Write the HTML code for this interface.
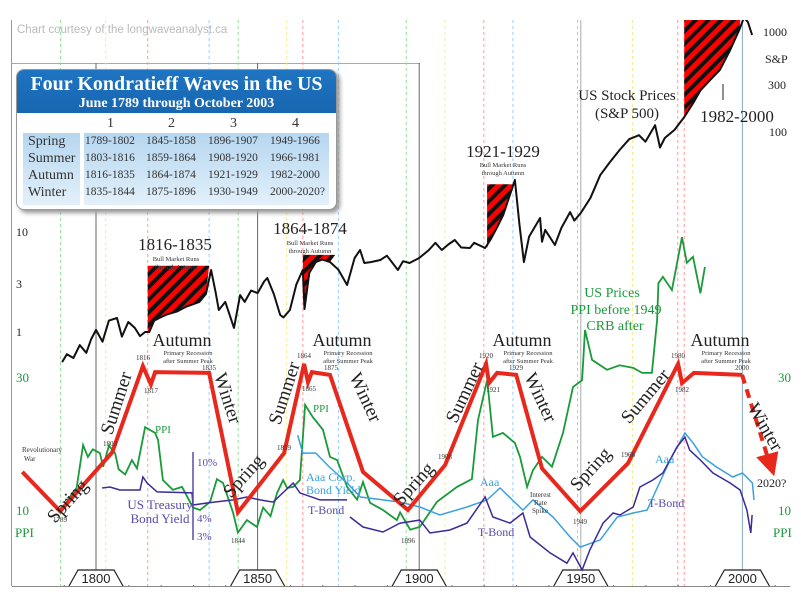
<!DOCTYPE html>
<html><head><meta charset="utf-8">
<style>
body{margin:0;background:#fff;}
#wrap{position:relative;width:801px;height:606px;overflow:hidden;background:#fff;font-family:"Liberation Serif",serif;}
svg{position:absolute;left:0;top:0;}
#tbl{position:absolute;left:16px;top:69px;width:319px;height:139px;border:1px solid #999;border-radius:8px;background:#fff;box-shadow:3px 3px 4px #999;overflow:hidden;}
#tbl .hd{background:linear-gradient(#1f74c2,#1766b0);height:43px;color:#fff;text-align:center;font-weight:bold;}
#tbl .t1{font-size:20px;line-height:23px;padding-top:3px;}
#tbl .t2{font-size:14px;line-height:16px;}
.cell{position:absolute;font-size:11.5px;color:#333;}
</style></head>
<body>
<div id="wrap">
<svg id="chart" width="801" height="606"></svg>
<div id="tbl">
 <div class="hd"><div class="t1">Four Kondratieff Waves in the US</div><div class="t2">June 1789 through October 2003</div></div>
 <div style="position:absolute;left:6px;top:63px;width:57px;height:72px;background:linear-gradient(#b5d6f0,#e3f0fa);"></div>
 <div style="position:absolute;left:67px;top:63px;width:245px;height:72px;background:linear-gradient(#b5d6f0,#e3f0fa);"></div>
 <div id="cells"></div>
</div>
</div>
<script>
// ---------- data ----------
const stockYears=[1789.5,1791,1793,1795,1797,1798.5,1800,1802,1804,1806.5,1808,1810,1812,1813.6,1815.2,1816.5,1818,1820,1822,1825,1828,1832,1834,1835.6,1837,1838,1840,1842.7,1844.6,1846,1848,1850,1852,1853,1855,1857,1858,1860,1862,1864,1864.5,1866,1868,1870,1872.4,1875,1877.7,1880,1881.7,1883,1885,1888,1890,1893.4,1895,1897,1900,1903,1905,1907,1909,1911,1913,1915.7,1917,1920.4,1922,1924,1926,1929.6,1931,1932.4,1934,1937.4,1938,1939,1942,1944,1946.7,1948,1950,1953,1956,1959,1962,1965,1968,1970,1973,1974.5,1976,1979,1982,1985,1987,1990,1993,1996,1999,2000.5,2001.7,2003];
const stockValues=[0.5,0.6,0.55,0.74,0.62,0.85,1.05,0.8,1.3,1.38,0.9,1.26,1.1,0.91,1.0,1.0,1.3,1.4,1.5,1.6,1.8,2.0,2.4,4.17,2.5,1.66,2.0,1.1,2.34,2.0,2.6,2.45,3.2,3.47,2.4,1.48,1.4,1.66,3.0,4.17,1.7,3.9,5.0,5.3,5.01,4.2,2.95,5.5,6.61,4.9,5.0,5.25,5.8,4.17,5.1,4.9,5.5,6.61,7.8,6.6,7.5,8.32,7.0,6.92,7.8,6.92,8.32,11,14.8,33.1,12,5.0,9,13.8,8,10.5,7.41,11,15.8,13,15.5,22,37,50,66,85,93,80,117,70,87,105,141,200,260,330,417,640,1047,1400,1259,933];
const ppiYears=[1789.5,1791.3,1794,1796,1797.5,1799,1801.2,1802.2,1804,1805.9,1807,1809,1811.1,1812.7,1815.2,1818.3,1819.2,1820.7,1823.8,1826.6,1830,1832.2,1835.3,1837.4,1839.3,1842.4,1843.9,1846.7,1849.8,1851.7,1854,1856,1857.9,1859.1,1861,1863.1,1864.7,1867.1,1870.2,1872.4,1874.6,1877.7,1880.8,1882.6,1884.8,1888.8,1893.1,1894.1,1897.2,1900.2,1905.5,1911.7,1916.3,1918.2,1921,1921.3,1922.8,1925.9,1929.6,1931.2,1933.4,1935.2,1938,1941.1,1944.5,1947.6,1950.4,1951.3,1953.5,1958.1,1962,1966.2,1969,1972,1973.6,1974,1975.4,1978.2,1981.3,1982.8,1984.7,1987,1988.4];
const ppiValues=[9.9,10.9,12,17.1,15.5,16.5,16.0,14.3,17,16.0,14,13.4,15.1,14.1,19.8,18.9,17.8,12.8,11.8,12.1,10.2,10.0,10.7,12.9,12.5,9.8,8.3,9.2,8.7,10.2,9.5,11.5,12.8,12.0,12.1,12.8,23.8,21.5,19.4,15.5,15.1,12.1,10.9,12.6,10.6,10.0,9.2,9.8,8.5,8.7,10.7,12.1,12.9,21.0,29.2,27.4,18.3,18.9,17.4,15.5,12.1,13.9,15.5,14.3,18.9,27.6,29.2,44.2,34.5,31.8,33,32.3,31,31.0,47.9,65,68.5,61.4,95,76.9,80.8,59.8,74.3];
const tbondYears=[1801.9,1804.3,1807.4,1813.6,1814.5,1815.8,1818.9,1829.7,1830,1834.3,1842.4,1846.7,1850.7,1854.8,1861,1863.1,1869.3,1877.7,null,1878.6,1882.6,1888.8,1894.1,1900.2,1903.3,1909.5,1914.8,1920.4,1922.8,1928.1,1932.1,1934.3,1940.5,1945.7,1947.6,1950.4,1952.8,1956.9,1960,1962.1,1966.2,1968.3,1972.3,1975.4,1979.8,1982.2,1983.7,1987,1990.9,1996.2,1999.3,2001.4,2002.6,2003];
const tbondValues=[6.59,6.70,6.37,6.37,7.92,7.16,6.17,6.07,4.96,5.13,5.40,5.67,5.40,5.21,7.16,6.07,5.40,5.40,null,4.06,3.44,3.16,3.67,3.86,3.11,3.27,3.67,5.67,4.06,3.67,4.34,2.91,2.23,1.88,2.23,1.68,2.34,3.67,4.34,4.20,4.80,6.70,7.53,8.47,13.1,15.4,12.4,10.5,8.47,7.16,6.37,4.56,3.11,4.20];
const aaaYears=[1862.4,1864,1868,1872.2,1877.7,1881.8,1888.8,1894.1,1900.2,1906.4,1914.8,1921,1925,1932.1,1935.2,1941.4,1946.7,1949.8,1956,1961.3,1966.2,1970.5,1973.6,1977.6,1982.2,1984.7,1987.6,1992,1997,2000,2003.1,2003.6];
const aaaValues=[15.9,11.8,11.8,9.36,7.16,5.67,5.40,5.21,4.80,4.20,4.80,5.40,6.59,4.56,5.40,4.06,2.91,2.46,2.77,4.06,4.34,4.56,6.59,10.5,16.5,14.0,11.1,9.36,7.92,8.47,7.16,5.4];
const kwYears=[1777.2,1788.9,1805,1814.5,1817,1818.3,1835,1843.9,1858.2,1864.4,1865.6,1866.8,1872.4,1882.6,1896.5,1908,1920.7,1921.6,1924.1,1930,1938,1949.8,1964.6,1980.1,1981.3,1985,1999.9];
const kwValues=[13.7,9.9,16.1,32.8,28.2,31.2,31.0,9.8,16.0,33.4,28.7,31.2,30.5,13.7,10.0,14.5,33.4,28.5,31.0,30.5,14.1,9.9,14.7,33.4,28.5,31.0,30.5];
const kwForecastYears=[1999.9,2008];
const kwForecastValues=[30.5,15.2];
const bullRanges=[[1816,1835,4.6],[1864,1874,5.9],[1921,1929,30],[1982,2000,2000]];
const decadeLabels=[1800,1850,1900,1950,2000];

// ---------- scales ----------
const X=y=>96+(y-1800)*3.232;
const YS=v=>332-100*Math.log10(v);
const YP=v=>510-279*Math.log10(v/10);
const YR=r=>463-138*Math.log10(r/10);

const svg=document.getElementById('chart');
const NS='http://www.w3.org/2000/svg';
function mk(tag,attrs,parent){const e=document.createElementNS(NS,tag);for(const k in attrs)e.setAttribute(k,attrs[k]);(parent||svg).appendChild(e);return e;}
function txt(s,x,y,size,fill,name,extra){const e=mk('text',Object.assign({x:x,y:y,'font-size':size,fill:fill,'font-family':'Liberation Serif, serif'},extra||{}));e.textContent=s;


return e;}
function pathFrom(years,vals,sc){let d='',pen=false;for(let i=0;i<years.length;i++){if(years[i]===null){pen=false;continue;}d+=(pen?'L':'M')+X(years[i]).toFixed(1)+','+sc(vals[i]).toFixed(1);pen=true;}return d;}

const defs=mk('defs',{});
const pat=mk('pattern',{id:'hatch',width:9,height:9,patternUnits:'userSpaceOnUse',patternTransform:'rotate(45)'},defs);
mk('rect',{width:9,height:9,fill:'#f00'},pat);
mk('rect',{width:4,height:9,fill:'#111'},pat);
const cp=mk('clipPath',{id:'clip'},defs);mk('rect',{x:12,y:20,width:790,height:566},cp);

let e=mk('line',{x1:11.5,y1:20,x2:11.5,y2:586,stroke:'#999'});


e=mk('line',{x1:12,y1:586.5,x2:790,y2:586.5,stroke:'#888'});


e=mk('line',{x1:12,y1:63.5,x2:420,y2:63.5,stroke:'#aaa'});


txt('Chart courtesy of the longwaveanalyst.ca',17,33,11.5,'#bbb','credit-text',{'font-family':'Liberation Sans, sans-serif'});

const seasonLines=[[1789,'#9d9'],[1803,'#ee9'],[1816,'#f99'],[1835,'#9cf'],[1844,'#9d9'],[1859,'#ee9'],[1864,'#f99'],[1875,'#9cf'],[1896,'#9d9'],[1908,'#ee9'],[1920,'#f99'],[1929,'#9cf'],[1949,'#9d9'],[1966,'#ee9'],[1980,'#f99'],[1982,'#f99']];
seasonLines.forEach(s=>{const l=mk('line',{x1:X(s[0]),x2:X(s[0]),y1:20,y2:586,stroke:s[1],'stroke-dasharray':'3,3','stroke-width':1});

});
decadeLabels.forEach((d,i)=>{const x=X(d);const col=i===3?'#aaa':(i===4?'#8ab':'#666');const l=mk('line',{x1:x,x2:x,y1:i<3?63:20,y2:586,stroke:col,'stroke-width':1});


const t=mk('path',{d:`M${x-27},586 L${x-18},570 L${x+18},570 L${x+27},586`,fill:'#fff',stroke:'#222','stroke-width':1.2});


txt(String(d),x,583,13,'#222','x-tick-label',{'text-anchor':'middle','font-family':'Liberation Sans, sans-serif'});});
for(let y=1790;y<=2010;y+=10){if(y%50===0)continue;const d=mk('rect',{x:X(y),y:585,width:1,height:1,fill:'#666'});

}

const g=mk('g',{'clip-path':'url(#clip)'});
bullRanges.forEach(r=>{const top=YS(r[2]);let pts=[[X(r[0]),top],[X(r[1]),top]];for(let i=stockYears.length-1;i>=0;i--){const y=stockYears[i];if(y>=r[0]&&y<=r[1])pts.push([X(y),YS(stockValues[i])]);}
const i0=stockYears.findIndex(y=>y>=r[0]);
pts.push([X(r[0]),YS(Math.min(stockValues[i0],stockValues[Math.max(0,i0-1)]))]);
const p=mk('polygon',{points:pts.map(p=>p.join(',')).join(' '),fill:'url(#hatch)'},g);

});

e=mk('path',{d:pathFrom(stockYears,stockValues,YS),fill:'none',stroke:'#111','stroke-width':2,'stroke-linejoin':'round'},g);


e=mk('path',{d:pathFrom(ppiYears,ppiValues,YP),fill:'none',stroke:'#1a9a3a','stroke-width':1.8},g);


e=mk('path',{d:pathFrom(aaaYears,aaaValues,YR),fill:'none',stroke:'#3aa0e0','stroke-width':1.5},g);


e=mk('path',{d:pathFrom(tbondYears,tbondValues,YR),fill:'none',stroke:'#3a2a9a','stroke-width':1.5},g);


e=mk('path',{d:pathFrom(kwYears,kwValues,YP),fill:'none',stroke:'#e8281c','stroke-width':4,'stroke-linejoin':'miter'},g);


e=mk('path',{d:pathFrom(kwForecastYears,kwForecastValues,YP),fill:'none',stroke:'#e8281c','stroke-width':4,'stroke-dasharray':'9,6'},g);


const ax=X(kwForecastYears[1]),ay=YP(kwForecastValues[1]);
e=mk('polygon',{points:`${ax-12},${ay-2} ${ax+10},${ay-8} ${ax+6},${ay+17}`,fill:'#e8281c'});



e=mk('line',{x1:193,x2:193,y1:452,y2:540,stroke:'#5a4aaa','stroke-width':1.5});


txt('10%',197,466,11,'#5a4aaa','yield-tick-10');txt('4%',197,522,11,'#5a4aaa','yield-tick-4');txt('3%',197,540,11,'#5a4aaa','yield-tick-3');

txt('10',16,236,12,'#222','sp-left-tick-10');txt('3',16,288,12,'#222','sp-left-tick-3');txt('1',16,336,12,'#222','sp-left-tick-1');
txt('1000',763,36,12,'#222','sp-right-tick-1000');txt('S&P',765,63,12,'#222','sp-axis-title');txt('300',768,89,12,'#222','sp-right-tick-300');txt('100',769,136,12,'#222','sp-right-tick-100');
txt('30',16,382,13,'#1a9a3a','ppi-left-tick-30');txt('10',16,515,13,'#1a9a3a','ppi-left-tick-10');txt('PPI',15,537,13,'#1a9a3a','ppi-left-title');
txt('30',778,382,13,'#1a9a3a','ppi-right-tick-30');txt('10',778,515,13,'#1a9a3a','ppi-right-tick-10');txt('PPI',773,537,13,'#1a9a3a','ppi-right-title');

function rot(s,x,y,a,size,name){txt(s,x,y,size,'#222',name,{transform:`rotate(${a} ${x} ${y})`,'text-anchor':'middle'});}
[[72,505,-48,'Spring'],[248,480,-48,'Spring'],[418,488,-48,'Spring'],[595,473,-48,'Spring']].forEach(a=>rot(a[3],a[0],a[1],a[2],19,'season-label-spring'));
[[122,405,-72,'Summer'],[290,395,-72,'Summer'],[470,395,-65,'Summer'],[650,400,-50,'Summer']].forEach(a=>rot(a[3],a[0],a[1],a[2],19,'season-label-summer'));
[[222,400,72,'Winter'],[360,400,65,'Winter'],[535,400,65,'Winter'],[760,430,60,'Winter']].forEach(a=>rot(a[3],a[0],a[1],a[2],19,'season-label-winter'));
[[182,346],[342,346],[522,346],[720,346]].forEach(a=>{txt('Autumn',a[0],a[1],18,'#222','season-label-autumn',{'text-anchor':'middle'});txt('Primary Recession',a[0]+6,355,6.5,'#333','recession-note',{'text-anchor':'middle'});txt('after Summer Peak',a[0]+6,363,6.5,'#333','recession-note',{'text-anchor':'middle'});});
[['1816',143,360],['1817',151,393],['1835',209,370],['1789',60,522],['1803',110,446],['1844',238,543],['1859',284,450],['1864',304,358],['1865',309,391],['1875',331,370],['1896',408,543],['1908',445,459],['1920',486,358],['1921',493,392],['1929',516,370],['1949',580,524],['1966',628,457],['1980',678,358],['1982',682,392],['2000',742,370]].forEach(a=>txt(a[0],a[1],a[2],7,'#333','year-marker',{'text-anchor':'middle'}));
txt('Revolutionary',22,452,7,'#333','revolutionary-war-label');txt('War',24,461,7,'#333','revolutionary-war-label');
txt('1816-1835',175,250,17,'#222','bull-1816-title',{'text-anchor':'middle'});
txt('Bull Market Runs',176,261,6.5,'#333','bull-note',{'text-anchor':'middle'});txt('through Autumn',176,269,6.5,'#333','bull-note',{'text-anchor':'middle'});
txt('1864-1874',310,234,17,'#222','bull-1864-title',{'text-anchor':'middle'});
txt('Bull Market Runs',310,245,6.5,'#333','bull-note',{'text-anchor':'middle'});txt('through Autumn',310,253,6.5,'#333','bull-note',{'text-anchor':'middle'});
txt('1921-1929',503,157,17,'#222','bull-1921-title',{'text-anchor':'middle'});
txt('Bull Market Runs',503,167,6.5,'#333','bull-note',{'text-anchor':'middle'});txt('through Autumn',503,175,6.5,'#333','bull-note',{'text-anchor':'middle'});
txt('1982-2000',737,122,17,'#222','bull-1982-title',{'text-anchor':'middle'});
e=mk('line',{x1:723,x2:723,y1:84,y2:100,stroke:'#222'});


txt('US Stock Prices',627,100,15,'#222','stock-series-label',{'text-anchor':'middle'});
txt('(S&P 500)',627,118,15,'#222','stock-series-label',{'text-anchor':'middle'});
txt('US Prices',612,297,14,'#1a9a3a','ppi-series-label',{'text-anchor':'middle'});
txt('PPI before 1949',616,314,14,'#1a9a3a','ppi-series-label',{'text-anchor':'middle'});
txt('CRB after',615,330,14,'#1a9a3a','ppi-series-label',{'text-anchor':'middle'});
txt('PPI',155,433,11,'#1a9a3a','ppi-label-1');txt('PPI',313,412,11,'#1a9a3a','ppi-label-2');
txt('US Treasury',160,509,13,'#5a4aaa','treasury-label',{'text-anchor':'middle'});txt('Bond Yield',160,523,13,'#5a4aaa','treasury-label',{'text-anchor':'middle'});
txt('Aaa Corp.',306,481,12,'#3aa0e0','aaa-corp-label');txt('Bond Yield',306,494,12,'#3aa0e0','aaa-corp-label');
txt('T-Bond',308,514,12,'#5a4aaa','tbond-label-1');
txt('Aaa',480,486,12,'#3aa0e0','aaa-label-2');txt('T-Bond',478,536,12,'#5a4aaa','tbond-label-2');
txt('Interest',530,497,7,'#333','rate-spike-note');txt('Rate',534,505,7,'#333','rate-spike-note');txt('Spike',532,513,7,'#333','rate-spike-note');
txt('Aaa',655,463,12,'#3aa0e0','aaa-label-3');txt('T-Bond',648,507,12,'#5a4aaa','tbond-label-3');
txt('2020?',757,487,12,'#222','forecast-2020-label');

const tbl=[['Spring','1789-1802','1845-1858','1896-1907','1949-1966'],['Summer','1803-1816','1859-1864','1908-1920','1966-1981'],['Autumn','1816-1835','1864-1874','1921-1929','1982-2000'],['Winter','1835-1844','1875-1896','1930-1949','2000-2020?']];
const cells=document.getElementById('cells');
const colX=[94,155,217,279];
['1','2','3','4'].forEach((c,i)=>{const d=document.createElement('div');d.className='cell';d.style.left=(colX[i]-4)+'px';d.style.top='46px';d.style.fontSize='14px';d.textContent=c;


cells.appendChild(d);});
tbl.forEach((row,r)=>row.forEach((c,i)=>{const d=document.createElement('div');d.className='cell';d.style.top=(65+r*17)+'px';
if(i===0){d.style.left='11px';d.style.fontSize='14px';d.style.top=(64+r*17)+'px';}else{d.style.left=(colX[i-1]-26)+'px';}
d.textContent=c;


cells.appendChild(d);}));
</script>
</body></html>
